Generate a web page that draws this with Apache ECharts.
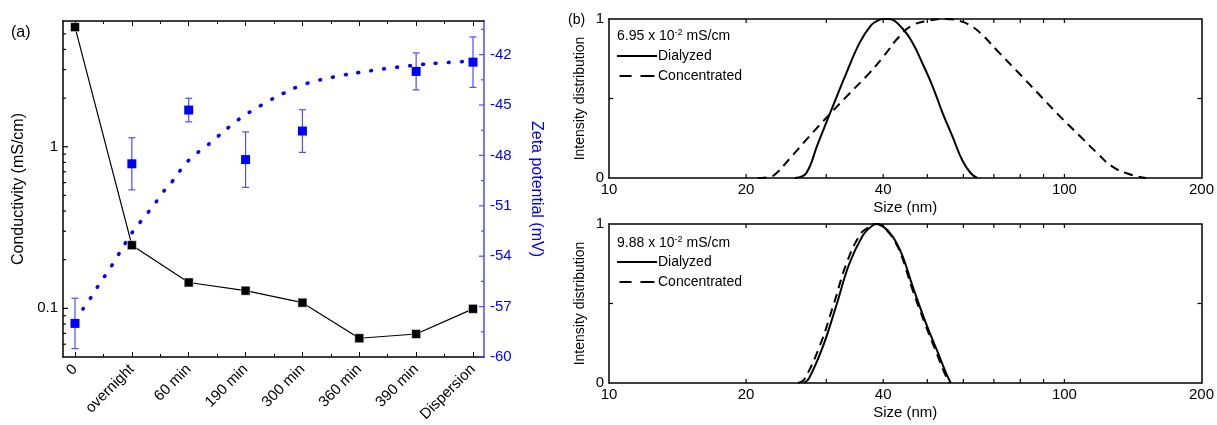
<!DOCTYPE html>
<html><head><meta charset="utf-8">
<script src="https://cdn.jsdelivr.net/npm/echarts@6/dist/echarts.min.js"></script>
<style>html,body{margin:0;padding:0;background:#fff}#c{width:1217px;height:425px}</style>
</head><body><div id="c"></div>
<script>
// ---- Panel (a) data ----
const categories = ['0','overnight','60 min','190 min','300 min','360 min','390 min','Dispersion'];
const conductivity = [5.5, 0.246, 0.1446, 0.1286, 0.1084, 0.0653, 0.0694, 0.0993];
const zeta = [-58.0, -48.5, -45.3, -48.25, -46.55, null, -43.0, -42.45];
const zetaErr = [1.5, 1.55, 0.7, 1.65, 1.27, null, 1.1, 1.5];
const fitX = [0.14,0.30,0.44,0.60,0.75,0.89,1.04,1.21,1.39,1.54,1.72,1.89,2.07,2.30,2.51,2.72,2.95,3.18,3.42,3.67,3.91,4.18,4.46,4.72,5.00,5.28,5.54,5.82,6.09,6.37,6.65,6.93];
const fitY = [-57.14,-56.36,-55.59,-54.81,-53.98,-53.20,-52.43,-51.71,-50.94,-50.22,-49.51,-48.73,-48.07,-47.48,-46.88,-46.28,-45.69,-45.21,-44.73,-44.30,-43.92,-43.62,-43.40,-43.22,-43.06,-42.92,-42.80,-42.69,-42.59,-42.51,-42.45,-42.40];
const condTicks = [0.1, 1];
const condMinorTicks = [0.06,0.07,0.08,0.09,0.2,0.3,0.4,0.5,0.6,0.7,0.8,0.9,2,3,4,5];
const zetaTicks = [-60,-57,-54,-51,-48,-45,-42];
const zetaMinorTicks = [-58.5,-55.5,-52.5,-49.5,-46.5,-43.5,-40.5];

// ---- Panel (b) data ----
const sizeLabels = [10, 20, 40, 100, 200];
const sizeTicks = [20,30,40,50,60,70,80,90,100];
const intensityTicks = [0.5];
const topDialyzedSize = [25.6,27.1,28.7,30.7,33.2,35.5,37.6,38.9,40.2,41.3,44.1,46.4,48.8,51.3,54.0,56.8,59.7,62.3,64.4];
const topDialyzedInt  = [0,0.03,0.21,0.42,0.66,0.85,0.96,0.99,1.0,1.0,0.94,0.85,0.72,0.58,0.41,0.26,0.11,0.03,0];
const topConcSize = [21.2,22.4,23.3,24.9,27.5,30.5,33.7,37.3,40.2,43.4,46.4,50.5,55.0,59.3,62.5,65.5,71.8,79.4,87.7,96.8,107.6,118.7,127.0,138.5,151.0];
const topConcInt  = [0,0.005,0.03,0.12,0.26,0.40,0.53,0.66,0.77,0.89,0.96,0.99,1.0,0.985,0.955,0.91,0.79,0.66,0.53,0.40,0.27,0.15,0.075,0.025,0];
const botDialyzedSize = [26.8,27.5,29.5,31.5,33.7,36.1,37.5,38.6,39.8,42.0,44.1,46.4,49.6,53.1,55.0,56.3];
const botDialyzedInt  = [0,0.03,0.23,0.48,0.75,0.93,0.98,1.0,0.99,0.92,0.80,0.61,0.38,0.17,0.06,0];
const botConcSize = [26.0,26.8,29.0,31.1,33.3,35.7,37.2,38.4,39.6,41.8,43.9,46.1,49.3,52.7,54.6,55.9];
const botConcInt  = [0,0.02,0.23,0.49,0.76,0.94,0.98,1.0,0.99,0.92,0.80,0.61,0.38,0.17,0.06,0];

const FONT = 'Liberation Sans, Arial, sans-serif';
const BLUE = '#0000ff';
const BLUE_AX = '#4d4dff';
const zip = (a,b) => a.map((v,i)=>[v,b[i]]);

const chart = echarts.init(document.getElementById('c'), null, {renderer:'canvas'});

const dataXBase = {
  type:'value', gridIndex:0, min:0, max:7, interval:1,
  axisLine:{show:false, onZero:false}, splitLine:{show:false},
  axisTick:{show:true, inside:true, length:5, lineStyle:{color:'#000', width:1}},
  minorTick:{show:true, splitNumber:2, length:3, lineStyle:{color:'#000', width:1}},
};
const frameX = pos => ({type:'value', gridIndex:1, position:pos, min:0, max:1,
  axisLine:{show:true, onZero:false, lineStyle:{color:'#000', width:1.5}}, axisTick:{show:false}, axisLabel:{show:false}, splitLine:{show:false}});

const sizeX = (g, pos, labels) => ({
  type:'log', logBase:10, gridIndex:g, position:pos, min:10, max:200,
  name: labels ? 'Size (nm)' : '', nameLocation:'middle', nameGap:22,
  nameTextStyle:{fontFamily:FONT, fontSize:15, color:'#000'},
  axisLine:{show:true, onZero:false, lineStyle:{color:'#000', width:1.5}},
  axisTick:{show:false}, minorTick:{show:false},
  axisLabel:{show:labels, customValues:sizeLabels, fontFamily:FONT, fontSize:15, color:'#000', margin:4,
    formatter: v => String(Math.round(v))},
  splitLine:{show:false}
});
const intY = (g, pos, labels) => ({
  type:'value', gridIndex:g, position:pos, min:0, max:1, interval:0.5,
  name: labels ? 'Intensity distribution' : '', nameLocation:'middle', nameGap:22, nameRotate:90,
  nameTextStyle:{fontFamily:FONT, fontSize:14, color:'#000'},
  axisLine:{show:true, onZero:false, lineStyle:{color:'#000', width:1.5}},
  axisTick:{show:false},
  axisLabel:{show:labels, fontFamily:FONT, fontSize:15, color:'#000', margin:5,
    formatter: v => (v===0||v===1) ? String(v) : ''},
  splitLine:{show:false}
});
const solidIcon = 'path://M0,0h40v2h-40z';
const dashIcon = 'path://M0,0h12v2h-12z M21,0h14v2h-14z';
const legendData = [{name:'Dialyzed', icon:solidIcon}, {name:'Concentrated', icon:dashIcon}];
const sup = {fontFamily:FONT, fontSize:9, verticalAlign:'top', padding:[0,0,8,0], color:'#000'};

// tick marks as thin rect symbols placed on the frame edges through the axes' scales
// edge: 'bottom' | 'top' | 'left' | 'right'; edgeVal is the axis value of that edge
function tickMarks(xIdx, yIdx, values, edge, edgeVal, len, color) {
  const vert = edge === 'bottom' || edge === 'top';
  const off = {bottom:[0,-len/2], top:[0,len/2], left:[len/2,0], right:[-len/2,0]}[edge];
  return {
    type:'scatter', xAxisIndex:xIdx, yAxisIndex:yIdx, silent:true, clip:false, z:10,
    data: values.map(v => vert ? [v, edgeVal] : [edgeVal, v]),
    symbol:'rect', symbolSize: vert ? [1.2, len] : [len, 1.2], symbolOffset: off,
    itemStyle:{color:color, opacity:1}
  };
}

const option = {
  animation:false,
  backgroundColor:'#fff',
  textStyle:{fontFamily:FONT},
  title:[
    {text:'(a)', left:6, top:20, textStyle:{fontFamily:FONT, fontSize:16, fontWeight:'normal', color:'#000'}},
    {text:'(b)', left:563, top:8, textStyle:{fontFamily:FONT, fontSize:14, fontWeight:'normal', color:'#000'}},
    {text:'6.95 x 10{sup|-2} mS/cm', left:612, top:23, textStyle:{fontFamily:FONT, fontSize:14, fontWeight:'normal', color:'#000', rich:{sup}}},
    {text:'9.88 x 10{sup|-2} mS/cm', left:612, top:230, textStyle:{fontFamily:FONT, fontSize:14, fontWeight:'normal', color:'#000', rich:{sup}}}
  ],
  legend:[
    {orient:'vertical', left:612, top:44, itemWidth:40, itemHeight:2, itemGap:6, data:legendData,
     itemStyle:{color:'#000'}, textStyle:{fontFamily:FONT, fontSize:14, color:'#000', padding:[0,0,0,-4]}, selectedMode:false},
    {orient:'vertical', left:612, top:250, itemWidth:40, itemHeight:2, itemGap:6, data:legendData,
     itemStyle:{color:'#000'}, textStyle:{fontFamily:FONT, fontSize:14, color:'#000', padding:[0,0,0,-4]}, selectedMode:false}
  ],
  grid:[
    {left:75, top:21, width:398, height:336},
    {left:63, top:21, width:421, height:336},
    {left:609, top:19, width:593, height:159},
    {left:609, top:224, width:593, height:159}
  ],
  xAxis:[
    Object.assign({}, dataXBase, {position:'bottom',
      axisLabel:{show:true, rotate:45, fontFamily:FONT, fontSize:15, color:'#000', margin:10,
        formatter: v => categories[v] !== undefined && Number.isInteger(v) ? categories[v] : ''}}),
    Object.assign({}, dataXBase, {position:'top', axisLabel:{show:false}}),
    frameX('bottom'),
    frameX('top'),
    sizeX(2,'bottom',true),
    sizeX(2,'top',false),
    sizeX(3,'bottom',true),
    sizeX(3,'top',false)
  ],
  yAxis:[
    {type:'log', logBase:10, gridIndex:0, position:'left', offset:12, min:0.05, max:6,
     name:'Conductivity (mS/cm)', nameLocation:'middle', nameGap:36, nameRotate:90,
     nameTextStyle:{fontFamily:FONT, fontSize:16, color:'#000'},
     axisLine:{show:true, onZero:false, lineStyle:{color:'#000', width:1.5}},
     axisTick:{show:false}, minorTick:{show:false},
     axisLabel:{show:true, customValues:condTicks, fontFamily:FONT, fontSize:15, color:'#000', margin:5,
       formatter: v => (Math.abs(v-0.1)<1e-9 ? '0.1' : (Math.abs(v-1)<1e-9 ? '1' : ''))},
     splitLine:{show:false}},
    {type:'value', gridIndex:0, position:'right', offset:11, min:-60, max:-40,
     name:'Zeta potential (mV)', nameLocation:'middle', nameGap:44, nameRotate:-90,
     nameTextStyle:{fontFamily:FONT, fontSize:16, color:BLUE},
     axisLine:{show:true, onZero:false, lineStyle:{color:BLUE_AX, width:1.5}},
     axisTick:{show:false}, minorTick:{show:false},
     axisLabel:{show:true, customValues:zetaTicks, fontFamily:FONT, fontSize:15, color:BLUE, margin:6},
     splitLine:{show:false}},
    // hidden twins on the frame grid, used only to place tick marks on the frame edges
    {type:'log', logBase:10, gridIndex:1, show:false, min:0.05, max:6},
    {type:'value', gridIndex:1, show:false, min:-60, max:-40},
    intY(2,'left',true),
    intY(2,'right',false),
    intY(3,'left',true),
    intY(3,'right',false)
  ],
  series:[
    {type:'line', name:'fit', xAxisIndex:0, yAxisIndex:1, data:zip(fitX, fitY), symbol:'none', smooth:true,
     lineStyle:{color:BLUE, width:3.6, type:[0.8,12.2], cap:'round'}, z:2},
    {type:'line', name:'cond', xAxisIndex:0, yAxisIndex:0, data:conductivity.map((v,i)=>[i,v]),
     symbol:'rect', symbolSize:9, itemStyle:{color:'#000', borderColor:'#fff', borderWidth:0.5},
     lineStyle:{color:'#000', width:1.2}, z:3},
    {type:'custom', name:'zetaErr', xAxisIndex:0, yAxisIndex:1,
     data: zeta.map((v,i)=> v===null ? null : [i, v, zetaErr[i]]).filter(d=>d),
     renderItem:(params, api) => {
       const x = api.value(0), y = api.value(1), e = api.value(2);
       const hi = api.coord([x, y+e]), lo = api.coord([x, y-e]);
       const st = {stroke:BLUE_AX, lineWidth:1.2};
       return {type:'group', children:[
         {type:'line', shape:{x1:hi[0], y1:hi[1], x2:lo[0], y2:lo[1]}, style:st},
         {type:'line', shape:{x1:hi[0]-3.5, y1:hi[1], x2:hi[0]+3.5, y2:hi[1]}, style:st},
         {type:'line', shape:{x1:lo[0]-3.5, y1:lo[1], x2:lo[0]+3.5, y2:lo[1]}, style:st}
       ]};
     }, z:4},
    {type:'scatter', name:'zeta', xAxisIndex:0, yAxisIndex:1,
     data: zeta.map((v,i)=> v===null ? null : [i, v]).filter(d=>d),
     symbol:'rect', symbolSize:9, itemStyle:{color:BLUE, opacity:1}, z:5},
    // tick marks
    tickMarks(2, 2, condTicks, 'left', 0, 5, '#000'),
    tickMarks(2, 2, condMinorTicks, 'left', 0, 3, '#000'),
    tickMarks(2, 3, zetaTicks, 'right', 1, 5, BLUE_AX),
    tickMarks(2, 3, zetaMinorTicks, 'right', 1, 3, BLUE_AX),
    tickMarks(4, 4, sizeTicks, 'bottom', 0, 4, '#000'),
    tickMarks(4, 4, sizeTicks, 'top', 1, 4, '#000'),
    tickMarks(6, 6, sizeTicks, 'bottom', 0, 4, '#000'),
    tickMarks(6, 6, sizeTicks, 'top', 1, 4, '#000'),
    tickMarks(4, 4, intensityTicks, 'left', 10, 4, '#000'),
    tickMarks(4, 4, intensityTicks, 'right', 200, 4, '#000'),
    tickMarks(6, 6, intensityTicks, 'left', 10, 4, '#000'),
    tickMarks(6, 6, intensityTicks, 'right', 200, 4, '#000'),
    // panel (b) curves
    {type:'line', name:'Dialyzed', xAxisIndex:4, yAxisIndex:4, data:zip(topDialyzedSize, topDialyzedInt), symbol:'none', smooth:0.4,
     itemStyle:{color:'#000'}, lineStyle:{color:'#000', width:2, type:'solid'}},
    {type:'line', name:'Concentrated', xAxisIndex:4, yAxisIndex:4, data:zip(topConcSize, topConcInt), symbol:'none', smooth:0.5,
     itemStyle:{color:'#000'}, lineStyle:{color:'#000', width:2, type:[9,6]}},
    {type:'line', name:'Dialyzed', xAxisIndex:6, yAxisIndex:6, data:zip(botDialyzedSize, botDialyzedInt), symbol:'none', smooth:0.4,
     itemStyle:{color:'#000'}, lineStyle:{color:'#000', width:2, type:'solid'}},
    {type:'line', name:'Concentrated', xAxisIndex:6, yAxisIndex:6, data:zip(botConcSize, botConcInt), symbol:'none', smooth:0.4,
     itemStyle:{color:'#000'}, lineStyle:{color:'#000', width:2, type:[9,6]}}
  ]
};
chart.setOption(option);
</script>
</body></html>
